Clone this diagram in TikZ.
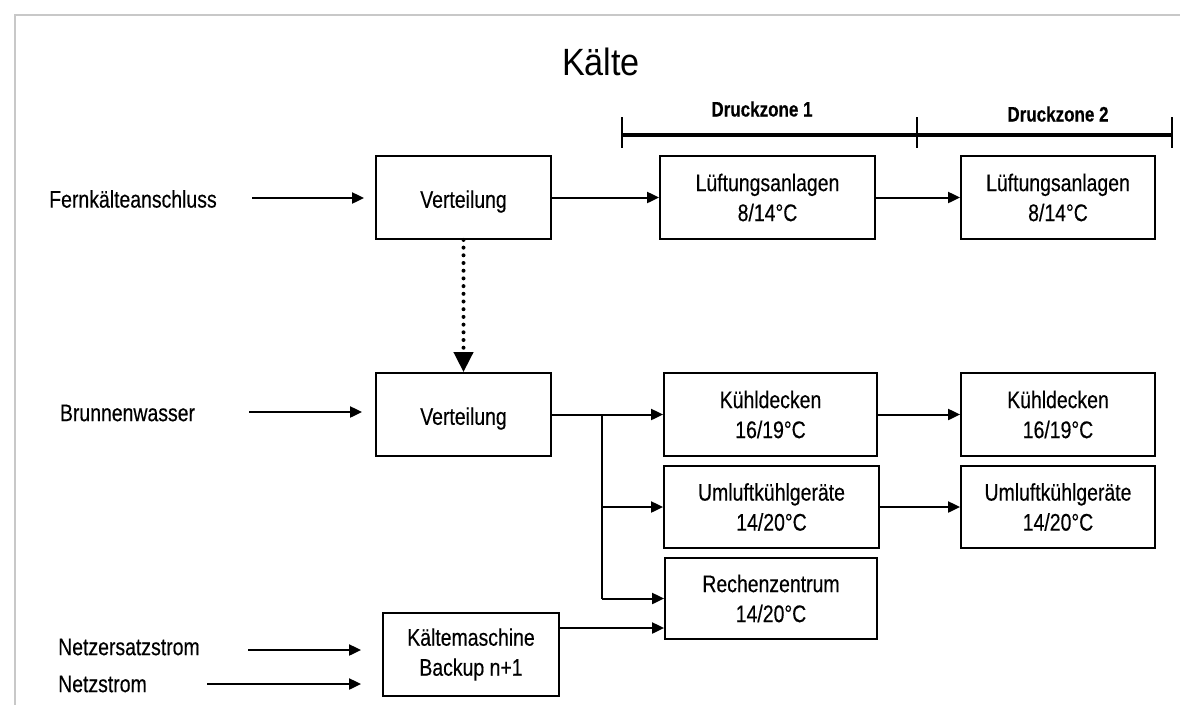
\documentclass[tikz,border=0pt]{standalone}
\usepackage{fontspec}
\setmainfont{Liberation Sans}[FakeStretch=0.81, FakeBold=0.35]
\newfontfamily\titlefont{Liberation Sans}[FakeStretch=0.9]
\usetikzlibrary{arrows.meta}
\definecolor{framegray}{RGB}{200,200,200}
\tikzset{
  box/.style={draw, line width=1.8pt, inner sep=0pt, minimum height=83pt,
    align=center, font=\fontsize{24}{30}\selectfont,
    execute at begin node={\rule{0pt}{25.5pt}}},
  lbl/.style={inner sep=0pt, font=\fontsize{24}{28}\selectfont},
  zonelbl/.style={inner sep=0pt, font=\fontsize{21}{24}\selectfont\bfseries},
  arr/.style={line width=2pt, -{Triangle[length=12pt,width=11pt]}},
  dotarr/.style={line width=4pt, line cap=round, dash pattern=on 0pt off 7.7pt,
    -{Triangle[length=20pt,width=19pt,line cap=butt]}},
}
\begin{document}
\begin{tikzpicture}[x=1pt, y=-1pt]
\useasboundingbox (0,0) rectangle (1180,705);

% outer frame (open to the right and bottom)
\draw[framegray, line width=2pt] (1180,15) -- (15,15) -- (15,705);

% title
\node[inner sep=0pt, font=\titlefont\fontsize{38}{44}\selectfont] (title) at (601,62) {Kälte};

% pressure zones
\coordinate (z0) at (622,135);
\coordinate (z1) at (917,135);
\coordinate (z2) at (1172,135);
\draw[line width=3.2pt] (z0) -- (z2);
\foreach \z in {z0,z1,z2}
  \draw[line width=1.2pt] ([yshift=18pt]\z) -- ([yshift=-13pt]\z);
\node[zonelbl] (dz1) at (762,109) {Druckzone 1};
\node[zonelbl] (dz2) at (1058,114) {Druckzone 2};

% sources
\node[lbl] (fk) at (133,199) {Fernkälteanschluss};
\node[lbl] (bw) at (127.5,413) {Brunnenwasser};
\node[lbl, anchor=west] (nes) at (58,647) {Netzersatzstrom};
\node[lbl, anchor=west] (ns) at (58,684) {Netzstrom};
\coordinate (fkTail) at (252,198);
\coordinate (bwTail) at (249,412);
\coordinate (nesTail) at (248,650);
\coordinate (nsTail) at (207,684);

% boxes
\node[box, minimum width=175pt] (verA) at (463.5,197.5) {Verteilung};
\node[box, minimum width=215pt] (lueA) at (767.5,197.5) {Lüftungsanlagen\\8/14°C};
\node[box, minimum width=194pt] (lueB) at (1058,197.5) {Lüftungsanlagen\\8/14°C};

\node[box, minimum width=175pt] (verB) at (463.5,414.5) {Verteilung};
\node[box, minimum width=213pt] (kueA) at (770.5,414.5) {Kühldecken\\16/19°C};
\node[box, minimum width=194pt] (kueB) at (1058,414.5) {Kühldecken\\16/19°C};
\node[box, minimum width=215pt, minimum height=82pt] (umlA) at (771.5,507) {Umluftkühlgeräte\\14/20°C};
\node[box, minimum width=194pt, minimum height=82pt] (umlB) at (1058,507) {Umluftkühlgeräte\\14/20°C};
\node[box, minimum width=212pt, minimum height=81pt] (rz) at (771,598.5) {Rechenzentrum\\14/20°C};
\node[box, minimum width=176pt] (km) at (471,654.5) {Kältemaschine\\Backup n+1};

% inputs
\draw[arr, shorten >=11pt] (fkTail) -- (fkTail -| verA.west);
\draw[arr, shorten >=13pt] (bwTail) -- (bwTail -| verB.west);
\draw[arr, shorten >=21pt] (nesTail) -- (nesTail -| km.west);
\draw[arr, shorten >=21pt] (nsTail) -- (nsTail -| km.west);

% upper chain
\draw[arr] (verA.east) -- (lueA.west);
\draw[arr] (lueA.east) -- (lueB.west);
\draw[dotarr] (verA.south) -- (verB.north);

% lower chain
\draw[arr] (verB.east) -- (kueA.west);
\draw[arr] (kueA.east) -- (kueB.west);
\draw[arr] (umlA.east) -- (umlB.west);
\coordinate (br) at (602,414.5);
\draw[line width=2pt] (br) -- (br |- rz.west);
\draw[arr] (br |- umlA.west) -- (umlA.west);
\draw[arr] (br |- rz.west) -- (rz.west);
\coordinate (kmout) at ([yshift=26.5pt]km.east);
\draw[arr] (kmout) -- (kmout -| rz.west);
\end{tikzpicture}
\end{document}
